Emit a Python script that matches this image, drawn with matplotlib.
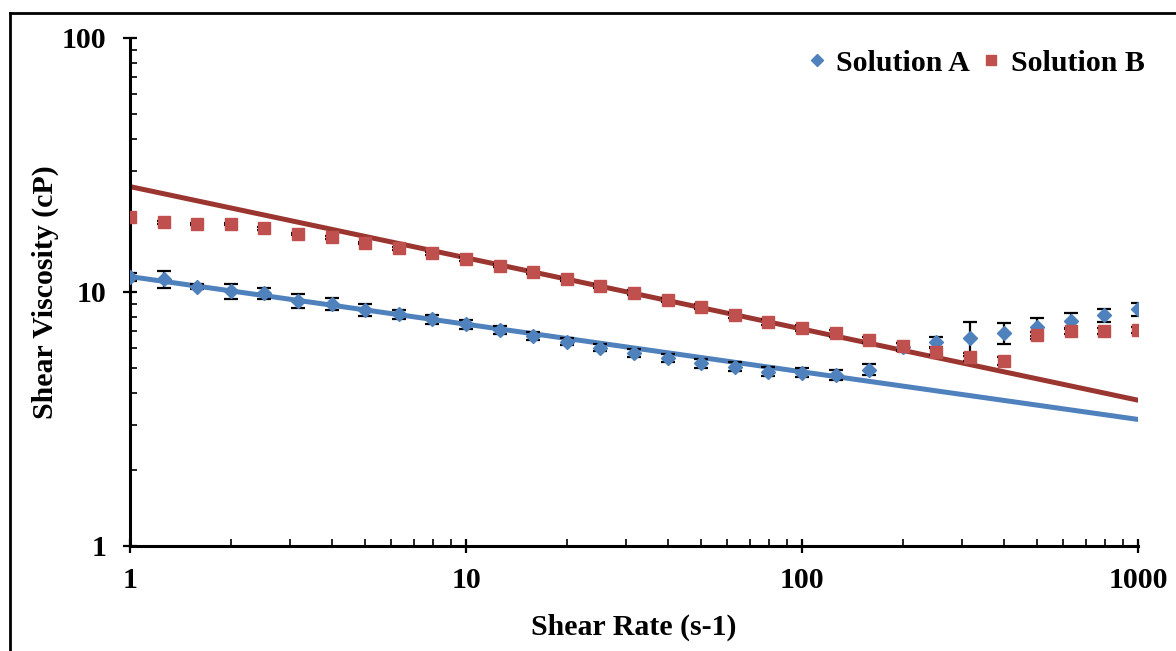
import numpy as np
import matplotlib
matplotlib.use("Agg")
import matplotlib.pyplot as plt
from matplotlib.lines import Line2D
from matplotlib.ticker import LogLocator, NullFormatter, FixedLocator, FixedFormatter

# Shear rates: 10 points per decade from 1 to 1000 s-1
shear_rate = [1.0, 1.259, 1.585, 1.995, 2.512, 3.162, 3.981, 5.012, 6.310, 7.943,
              10.0, 12.59, 15.85, 19.95, 25.12, 31.62, 39.81, 50.12, 63.10, 79.43,
              100.0, 125.9, 158.5, 199.5, 251.2, 316.2, 398.1, 501.2, 631.0, 794.3,
              1000.0]

# Solution A viscosity (cP) and standard deviation
visc_a = [11.45, 11.25, 10.5, 10.1, 9.88, 9.22, 9.0, 8.53, 8.18, 7.8,
          7.46, 7.1, 6.7, 6.37, 6.04, 5.74, 5.52, 5.24, 5.08, 4.85,
          4.81, 4.71, 4.95, 6.07, 6.37, 6.62, 6.87, 7.3, 7.7, 8.1,
          8.55]
err_a = [0.45, 0.85, 0.25, 0.7, 0.5, 0.6, 0.5, 0.45, 0.35, 0.35,
         0.3, 0.25, 0.25, 0.2, 0.2, 0.2, 0.2, 0.2, 0.2, 0.2,
         0.2, 0.2, 0.25, 0.2, 0.3, 1.0, 0.65, 0.6, 0.55, 0.45,
         0.5]

# Solution B viscosity (cP) and standard deviation
visc_b = [19.8, 18.8, 18.5, 18.5, 17.8, 16.9, 16.4, 15.6, 14.9, 14.2,
          13.5, 12.7, 12.0, 11.2, 10.6, 9.95, 9.3, 8.75, 8.1, 7.6,
          7.2, 6.88, 6.47, 6.12, 5.83, 5.54, 5.37, 6.76, 7.03, 7.03,
          7.1]
err_b = [0.2] * 31

# Power-law trend lines, value at the ends of the shear-rate range
trend_x = [1.0, 1000.0]
trend_a = [11.5, 3.15]
trend_b = [26.0, 3.75]

blue = "#4F81BD"
red = "#C0504D"
dark_red = "#9B3530"
fs = 21.5

plt.rcParams["font.family"] = ["Liberation Serif", "DejaVu Serif"]
plt.rcParams["font.weight"] = "bold"

fig = plt.figure(figsize=(11.76, 6.51), dpi=100)
ax = fig.add_axes([130 / 1176, 1 - 546 / 651, 1008 / 1176, 508 / 651])

# trend lines under the markers
ax.plot(trend_x, trend_a, color=blue, lw=3.6, solid_capstyle="round", zorder=2)
ax.plot(trend_x, trend_b, color=dark_red, lw=3.6, solid_capstyle="round", zorder=2)

ax.errorbar(shear_rate, visc_a, yerr=err_a, fmt="none", ecolor="black",
            elinewidth=1.6, capsize=5, capthick=1.6, zorder=3)
ax.plot(shear_rate, visc_a, ls="none", marker="D", ms=7, color=blue,
        mec=blue, zorder=4, label="Solution A")
ax.errorbar(shear_rate, visc_b, yerr=err_b, fmt="none", ecolor="black",
            elinewidth=1.6, capsize=5, capthick=1.6, zorder=5)
ax.plot(shear_rate, visc_b, ls="none", marker="s", ms=8, color=red,
        mec=red, zorder=6, label="Solution B")

ax.set_xscale("log")
ax.set_yscale("log")
ax.set_xlim(1, 1000)
ax.set_ylim(1, 100)

ax.xaxis.set_major_locator(FixedLocator([1, 10, 100, 1000]))
ax.xaxis.set_major_formatter(FixedFormatter(["1", "10", "100", "1000"]))
ax.yaxis.set_major_locator(FixedLocator([1, 10, 100]))
ax.yaxis.set_major_formatter(FixedFormatter(["1", "10", "100"]))
ax.xaxis.set_minor_locator(LogLocator(base=10, subs=np.arange(2, 10)))
ax.yaxis.set_minor_locator(LogLocator(base=10, subs=np.arange(2, 10)))
ax.xaxis.set_minor_formatter(NullFormatter())
ax.yaxis.set_minor_formatter(NullFormatter())

ax.tick_params(which="major", direction="inout", length=10, width=1.6,
               labelsize=fs, pad=10)
ax.tick_params(which="minor", direction="in", length=5, width=1.2)
ax.tick_params(axis="y", which="major", pad=12)

for side in ("top", "right"):
    ax.spines[side].set_visible(False)
for side in ("left", "bottom"):
    ax.spines[side].set_linewidth(2.2)

ax.set_xlabel("Shear Rate (s-1)", fontsize=fs, fontweight="bold", labelpad=14)
ax.set_ylabel("Shear Viscosity (cP)", fontsize=fs, fontweight="bold", labelpad=2)

ax.legend(loc="upper right", bbox_to_anchor=(1.033, 1.03), ncol=2, frameon=False,
          fontsize=fs, handlelength=0.6, handletextpad=0.35, columnspacing=0.4,
          markerscale=0.9)

# outer chart frame (top and left edges)
fig.add_artist(Line2D([10 / 1176, 1.0], [1 - 13 / 651, 1 - 13 / 651],
                      transform=fig.transFigure, color="black", lw=2))
fig.add_artist(Line2D([10 / 1176, 10 / 1176], [0.0, 1 - 13 / 651],
                      transform=fig.transFigure, color="black", lw=2))

fig.savefig("out.png", dpi=100)
